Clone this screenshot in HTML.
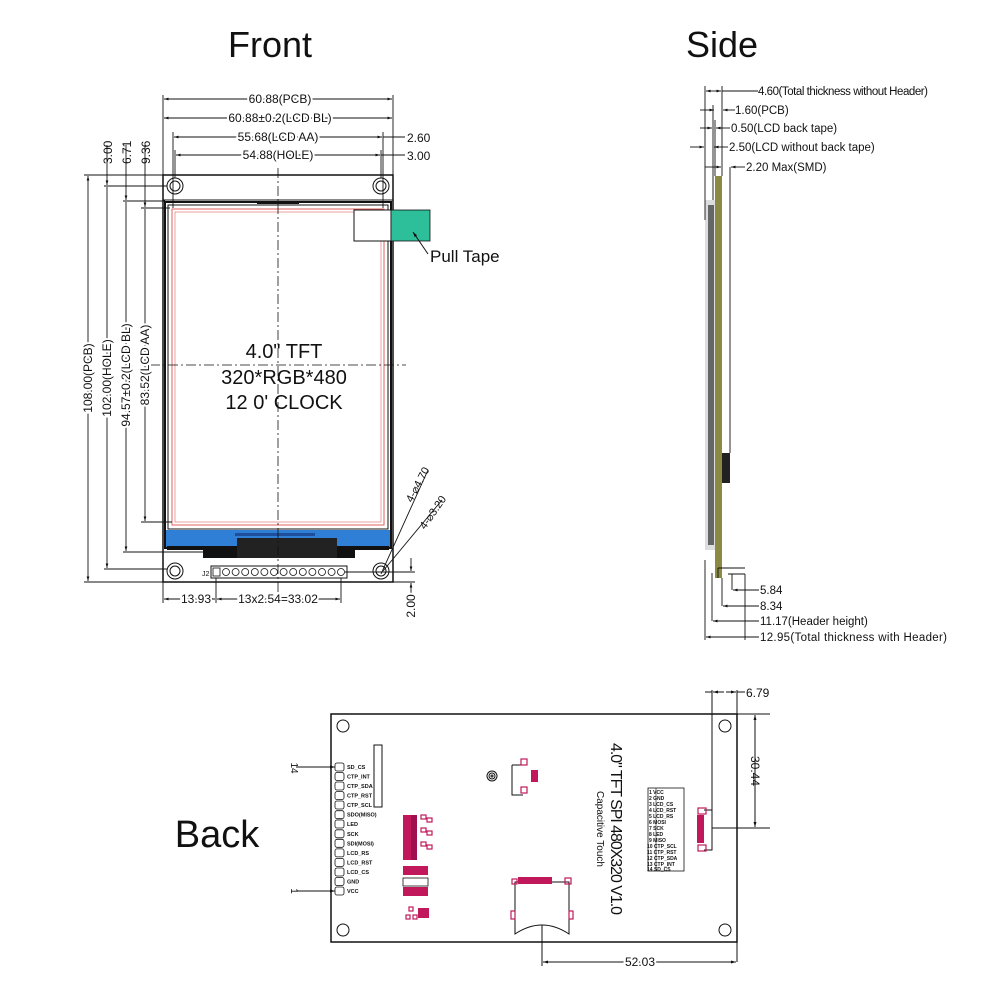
<!DOCTYPE html>
<html><head><meta charset="utf-8"><style>
html,body{margin:0;padding:0;background:#fff;width:1000px;height:1000px;overflow:hidden}
svg{display:block}
text{font-family:"Liberation Sans",sans-serif;fill:#111}
</style></head><body>
<svg width="1000" height="1000" viewBox="0 0 1000 1000" xmlns="http://www.w3.org/2000/svg">
<defs>
<marker id="a" viewBox="0 0 10 10" refX="10" refY="5" markerWidth="7" markerHeight="5" orient="auto-start-reverse"><path d="M0,2 L10,5 L0,8z" fill="#111"/></marker>
</defs>
<text x="270" y="57" font-size="36" text-anchor="middle" fill="#111">Front</text>
<text x="722" y="57" font-size="36" text-anchor="middle">Side</text>
<text x="217" y="847" font-size="38" text-anchor="middle">Back</text>

<g stroke="#111" fill="none" stroke-width="1">
<rect x="163" y="175" width="230" height="407" stroke-width="1.5"/>
<line x1="163" y1="200" x2="393" y2="200"/>
<rect x="165" y="202" width="226" height="346" stroke-width="2"/>
<rect x="168" y="205" width="220" height="324" stroke-width="1"/>
<rect x="172" y="209" width="212" height="316" stroke="#e06060"/>
<rect x="175" y="212" width="206" height="310" stroke="#e06060" stroke-width="0.6"/>
<circle cx="175" cy="186" r="8"/><circle cx="175" cy="186" r="5"/>
<circle cx="381" cy="186" r="8"/><circle cx="381" cy="186" r="5"/>
<circle cx="175" cy="571" r="8"/><circle cx="175" cy="571" r="5"/>
<circle cx="381" cy="571" r="8"/><circle cx="381" cy="571" r="5"/>
</g>
<rect x="257" y="201" width="42" height="3" fill="#111"/>
<rect x="166" y="530" width="224" height="17" fill="#2f7fd6"/>
<rect x="235" y="533" width="80" height="3" fill="#1d4f9a"/>
<rect x="167" y="546" width="222" height="4" fill="#111"/>
<rect x="203" y="546" width="150" height="12" fill="#111"/>
<rect x="237" y="538" width="100" height="20" fill="#222"/>
<rect x="343" y="550" width="12" height="8" fill="#111"/>
<rect x="211" y="566" width="136" height="12" fill="none" stroke="#111"/>
<text x="202" y="576" font-size="7">J2</text>
<g fill="none" stroke="#111" stroke-width="0.8">
<rect x="213" y="568" width="7" height="8"/>
<circle cx="226" cy="572" r="3.5"/><circle cx="235.6" cy="572" r="3.5"/><circle cx="245.2" cy="572" r="3.5"/><circle cx="254.8" cy="572" r="3.5"/><circle cx="264.4" cy="572" r="3.5"/><circle cx="274" cy="572" r="3.5"/><circle cx="283.6" cy="572" r="3.5"/><circle cx="293.2" cy="572" r="3.5"/><circle cx="302.8" cy="572" r="3.5"/><circle cx="312.4" cy="572" r="3.5"/><circle cx="322" cy="572" r="3.5"/><circle cx="331.6" cy="572" r="3.5"/><circle cx="341" cy="572" r="3.5"/>
</g>
<rect x="354" y="210" width="37" height="31" fill="#fff" stroke="#111"/>
<rect x="391" y="210" width="39" height="31" fill="#2dbf9a" stroke="#111" stroke-width="0.8"/>
<line x1="413" y1="232" x2="428" y2="254" stroke="#111" marker-end="url(#a)" transform="rotate(180 420.5 243)"/>
<text x="430" y="262" font-size="17">Pull Tape</text>
<g stroke="#111" stroke-dasharray="10,3,2,3" stroke-width="0.8">
<line x1="278" y1="168" x2="278" y2="605"/>
<line x1="150" y1="365" x2="406" y2="365"/>
</g>
<text x="284" y="358" font-size="20" text-anchor="middle">4.0" TFT</text>
<text x="284" y="384" font-size="20" text-anchor="middle">320*RGB*480</text>
<text x="284" y="409" font-size="20" text-anchor="middle">12 0' CLOCK</text>

<g stroke="#111" stroke-width="0.9" fill="none">
<line x1="163" y1="95" x2="163" y2="175"/><line x1="393" y1="95" x2="393" y2="175"/>
<line x1="173" y1="132" x2="173" y2="208"/><line x1="383" y1="132" x2="383" y2="208"/>
<line x1="175" y1="150" x2="175" y2="178"/><line x1="381" y1="150" x2="381" y2="178"/>
<line x1="164" y1="99" x2="392" y2="99" marker-start="url(#a)" marker-end="url(#a)"/>
<line x1="164" y1="118" x2="392" y2="118" marker-start="url(#a)" marker-end="url(#a)"/>
<line x1="174" y1="137" x2="382" y2="137" marker-start="url(#a)" marker-end="url(#a)"/>
<line x1="383" y1="137" x2="405" y2="137"/>
<line x1="176" y1="155" x2="380" y2="155" marker-start="url(#a)" marker-end="url(#a)"/>
<line x1="381" y1="155" x2="405" y2="155"/>
<line x1="84" y1="175" x2="163" y2="175"/><line x1="84" y1="582" x2="163" y2="582"/>
<line x1="104" y1="186" x2="167" y2="186"/><line x1="104" y1="569" x2="167" y2="569"/>
<line x1="123" y1="201" x2="165" y2="201"/><line x1="123" y1="552" x2="203" y2="552"/>
<line x1="141" y1="208" x2="170" y2="208"/><line x1="141" y1="522" x2="172" y2="522"/>
<line x1="88" y1="176" x2="88" y2="581" marker-start="url(#a)" marker-end="url(#a)"/>
<line x1="107" y1="145" x2="107" y2="185" marker-end="url(#a)"/><line x1="107" y1="187" x2="107" y2="568" marker-end="url(#a)"/>
<line x1="126" y1="145" x2="126" y2="200" marker-end="url(#a)"/><line x1="126" y1="202" x2="126" y2="551" marker-end="url(#a)"/>
<line x1="145" y1="145" x2="145" y2="207" marker-end="url(#a)"/><line x1="145" y1="209" x2="145" y2="521" marker-end="url(#a)"/>
<line x1="163" y1="582" x2="163" y2="603"/><line x1="216" y1="578" x2="216" y2="603"/><line x1="341" y1="578" x2="341" y2="603"/>
<line x1="164" y1="599" x2="215" y2="599" marker-start="url(#a)" marker-end="url(#a)"/>
<line x1="217" y1="599" x2="340" y2="599" marker-start="url(#a)" marker-end="url(#a)"/>
<line x1="345" y1="572" x2="415" y2="572"/><line x1="393" y1="582" x2="415" y2="582"/>
<line x1="411" y1="558" x2="411" y2="571" marker-end="url(#a)"/>
<line x1="411" y1="600" x2="411" y2="583" marker-end="url(#a)"/>
<line x1="381" y1="574" x2="428" y2="470"/>
<line x1="383" y1="571" x2="442" y2="500"/>
</g>
<g font-size="12">
<text x="280" y="103" text-anchor="middle" style="paint-order:stroke" stroke="#fff" stroke-width="4">60.88(PCB)</text>
<text x="280" y="122" text-anchor="middle" style="paint-order:stroke" stroke="#fff" stroke-width="4">60.88±0.2(LCD BL)</text>
<text x="278" y="141" text-anchor="middle" style="paint-order:stroke" stroke="#fff" stroke-width="4">55.68(LCD AA)</text>
<text x="278" y="159" text-anchor="middle" style="paint-order:stroke" stroke="#fff" stroke-width="4">54.88(HOLE)</text>
<text x="407" y="142">2.60</text><text x="407" y="160">3.00</text>
<text transform="translate(112 164) rotate(-90)">3.00</text>
<text transform="translate(131 164) rotate(-90)">6.71</text>
<text transform="translate(150 164) rotate(-90)">9.36</text>
<g style="paint-order:stroke" stroke="#fff" stroke-width="4" text-anchor="middle">
<text transform="translate(92 378) rotate(-90)">108.00(PCB)</text>
<text transform="translate(111 378) rotate(-90)">102.00(HOLE)</text>
<text transform="translate(130 375) rotate(-90)">94.57±0.2(LCD BL)</text>
<text transform="translate(149 365) rotate(-90)">83.52(LCD AA)</text>
<text x="196" y="603">13.93</text>
<text x="278" y="603">13x2.54=33.02</text>
<text transform="translate(415 606) rotate(-90)">2.00</text>
</g>
<text transform="translate(412 503) rotate(-62)" font-size="11">4-⌀4.70</text>
<text transform="translate(425 530) rotate(-55)" font-size="11">4-⌀3.20</text>
</g>

<!-- SIDE -->
<rect x="705" y="200" width="10" height="350" fill="#ddd"/>
<rect x="708" y="205" width="6" height="340" fill="#666"/>
<rect x="715" y="176" width="7" height="402" fill="#8a8a45"/>
<rect x="722" y="453" width="8" height="30" fill="#222"/>
<g stroke="#111" stroke-width="0.9" fill="none">
<line x1="730" y1="167" x2="730" y2="453"/>
<line x1="718" y1="568" x2="745" y2="568"/><line x1="718" y1="568" x2="718" y2="578"/>
<line x1="728" y1="574" x2="745" y2="574"/><line x1="745" y1="574" x2="745" y2="640"/>
<line x1="732" y1="574" x2="732" y2="590"/><line x1="722" y1="578" x2="722" y2="606"/>
<line x1="712" y1="573" x2="712" y2="621"/><line x1="705" y1="560" x2="705" y2="640"/>
<line x1="705" y1="86" x2="705" y2="220"/><line x1="722" y1="86" x2="722" y2="176"/>
<line x1="713" y1="105" x2="713" y2="200"/><line x1="715" y1="120" x2="715" y2="176"/>
<line x1="706" y1="91" x2="721" y2="91" marker-start="url(#a)" marker-end="url(#a)"/><line x1="722" y1="91" x2="758" y2="91"/>
<line x1="700" y1="110" x2="714" y2="110" marker-end="url(#a)"/><line x1="735" y1="110" x2="723" y2="110" marker-end="url(#a)"/>
<line x1="700" y1="128" x2="712" y2="128" marker-end="url(#a)"/><line x1="730" y1="128" x2="716" y2="128" marker-end="url(#a)"/>
<line x1="690" y1="147" x2="704" y2="147" marker-end="url(#a)"/><line x1="728" y1="147" x2="714" y2="147" marker-end="url(#a)"/>
<line x1="705" y1="167" x2="721" y2="167" marker-end="url(#a)"/><line x1="745" y1="167" x2="731" y2="167" marker-end="url(#a)"/>
<line x1="733" y1="590" x2="759" y2="590" marker-start="url(#a)"/>
<line x1="723" y1="606" x2="759" y2="606" marker-start="url(#a)"/>
<line x1="713" y1="621" x2="759" y2="621" marker-start="url(#a)"/>
<line x1="706" y1="637" x2="759" y2="637" marker-start="url(#a)"/>
</g>
<g font-size="11.5">
<text x="758" y="95" textLength="170">4.60(Total thickness without Header)</text>
<text x="735" y="114">1.60(PCB)</text>
<text x="731" y="132">0.50(LCD back tape)</text>
<text x="729" y="151">2.50(LCD without back tape)</text>
<text x="746" y="171">2.20 Max(SMD)</text>
<text x="760" y="594">5.84</text><text x="760" y="610">8.34</text>
<text x="760" y="625">11.17(Header height)</text>
<text x="760" y="641" textLength="187">12.95(Total thickness with Header)</text>
</g>

<!-- BACK -->
<g stroke="#111" fill="none">
<rect x="331" y="714" width="406" height="228" stroke-width="1.5"/>
<circle cx="343" cy="726" r="6"/><circle cx="725" cy="726" r="6"/>
<circle cx="343" cy="930" r="6"/><circle cx="725" cy="930" r="6"/>
<rect x="374" y="745" width="8" height="62"/>
<circle cx="492" cy="776" r="5"/><circle cx="492" cy="776" r="3"/><circle cx="492" cy="776" r="1"/>
<line x1="712" y1="690" x2="712" y2="828"/><line x1="737" y1="690" x2="737" y2="962"/>
<line x1="712" y1="828" x2="770" y2="828"/><line x1="737" y1="714" x2="770" y2="714"/>
<line x1="705" y1="692" x2="712" y2="692" /><line x1="724" y1="692" x2="713" y2="692" marker-end="url(#a)"/>
<line x1="726" y1="692" x2="736" y2="692" marker-end="url(#a)"/><line x1="737" y1="692" x2="745" y2="692"/>
<line x1="755" y1="715" x2="755" y2="827" marker-start="url(#a)" marker-end="url(#a)"/>
<line x1="542" y1="925" x2="542" y2="966"/>
<line x1="543" y1="962" x2="736" y2="962" marker-start="url(#a)" marker-end="url(#a)"/>
<line x1="296" y1="767" x2="335" y2="767" marker-end="url(#a)"/>
<line x1="296" y1="891" x2="335" y2="891" marker-end="url(#a)"/>
<path d="M515 882 V934 Q542 916 569 934 V882 Z"/>
<path d="M704 810 H712 V850 H704"/>
<path d="M512 765 V795 H523 M512 765 H523"/>
<rect x="648" y="788" width="36" height="83" stroke-width="0.8"/>
<line x1="656" y1="788" x2="656" y2="871" stroke-width="0.6"/>
</g>
<text x="746" y="697" font-size="12">6.79</text>
<text transform="translate(751 771) rotate(90)" font-size="12" text-anchor="middle">30.44</text>
<text x="640" y="966" font-size="12" text-anchor="middle" style="paint-order:stroke" stroke="#fff" stroke-width="4">52.03</text>
<text transform="translate(291 768) rotate(90)" font-size="10" text-anchor="middle">14</text>
<text transform="translate(291 891) rotate(90)" font-size="10" text-anchor="middle">1</text>
<text transform="translate(611 829) rotate(90)" font-size="16" text-anchor="middle" textLength="172">4.0" TFT SPI 480X320 V1.0</text>
<text transform="translate(597 829) rotate(90)" font-size="10" text-anchor="middle">Capacitive Touch</text>
<g font-size="5.5" font-weight="bold" font-family="Liberation Mono">
<g fill="none" stroke="#111" stroke-width="0.8">
<rect x="335" y="763" width="9" height="8" rx="2"/><rect x="335" y="772.5" width="9" height="8" rx="2"/><rect x="335" y="782" width="9" height="8" rx="2"/><rect x="335" y="791.6" width="9" height="8" rx="2"/><rect x="335" y="801" width="9" height="8" rx="2"/><rect x="335" y="810.7" width="9" height="8" rx="2"/><rect x="335" y="820" width="9" height="8" rx="2"/><rect x="335" y="829.8" width="9" height="8" rx="2"/><rect x="335" y="839.3" width="9" height="8" rx="2"/><rect x="335" y="848.9" width="9" height="8" rx="2"/><rect x="335" y="858.4" width="9" height="8" rx="2"/><rect x="335" y="868" width="9" height="8" rx="2"/><rect x="335" y="877.5" width="9" height="8" rx="2"/><rect x="335" y="887" width="9" height="8" rx="2"/>
</g>
<text x="347" y="769">SD_CS</text><text x="347" y="778.5">CTP_INT</text><text x="347" y="788">CTP_SDA</text><text x="347" y="797.6">CTP_RST</text><text x="347" y="807">CTP_SCL</text><text x="347" y="816.7">SDO(MISO)</text><text x="347" y="826">LED</text><text x="347" y="835.8">SCK</text><text x="347" y="845.3">SDI(MOSI)</text><text x="347" y="854.9">LCD_RS</text><text x="347" y="864.4">LCD_RST</text><text x="347" y="874">LCD_CS</text><text x="347" y="883.5">GND</text><text x="347" y="893">VCC</text>
<g font-size="5">
<text x="649" y="794">1 VCC</text><text x="649" y="800">2 GND</text><text x="649" y="806">3 LCD_CS</text><text x="649" y="812">4 LCD_RST</text><text x="649" y="818">5 LCD_RS</text><text x="649" y="824">6 MOSI</text><text x="649" y="830">7 SCK</text><text x="649" y="836">8 LED</text><text x="649" y="842">9 MISO</text><text x="647" y="848">10 CTP_SCL</text><text x="647" y="854">11 CTP_RST</text><text x="647" y="860">12 CTP_SDA</text><text x="647" y="866">13 CTP_INT</text><text x="647" y="871">14 SD_CS</text>
</g>
</g>
<g fill="#c0185a">
<rect x="403" y="815" width="8" height="45"/><rect x="411" y="815" width="6" height="45" fill="#a01050"/>
<rect x="403" y="866" width="25" height="9"/><rect x="403" y="887" width="25" height="9"/>
<rect x="418" y="908" width="11" height="10"/>
<rect x="697" y="815" width="7" height="28"/>
<rect x="531" y="770" width="7" height="12"/>
<rect x="518" y="877" width="34" height="7"/>
</g>
<g fill="none" stroke="#c0185a" stroke-width="1.2">
<rect x="403" y="878" width="25" height="8" stroke="#111" stroke-width="0.8"/>
<rect x="521" y="759" width="6" height="6"/><rect x="521" y="787" width="6" height="6"/>
<rect x="698" y="808" width="8" height="6"/><rect x="698" y="845" width="8" height="6"/>
<rect x="512" y="879" width="5" height="5"/><rect x="565" y="878" width="6" height="6"/>
<rect x="511" y="911" width="4" height="8"/><rect x="569" y="911" width="4" height="8"/>
<rect x="421" y="815" width="5" height="4"/><rect x="427" y="818" width="5" height="4"/><rect x="421" y="828" width="5" height="4"/><rect x="427" y="831" width="5" height="4"/><rect x="421" y="842" width="5" height="4"/><rect x="427" y="845" width="5" height="4"/>
<rect x="409" y="907" width="4" height="4"/><rect x="406" y="915" width="4" height="4"/><rect x="413" y="915" width="4" height="4"/>
</g>
</svg>
</body></html>
